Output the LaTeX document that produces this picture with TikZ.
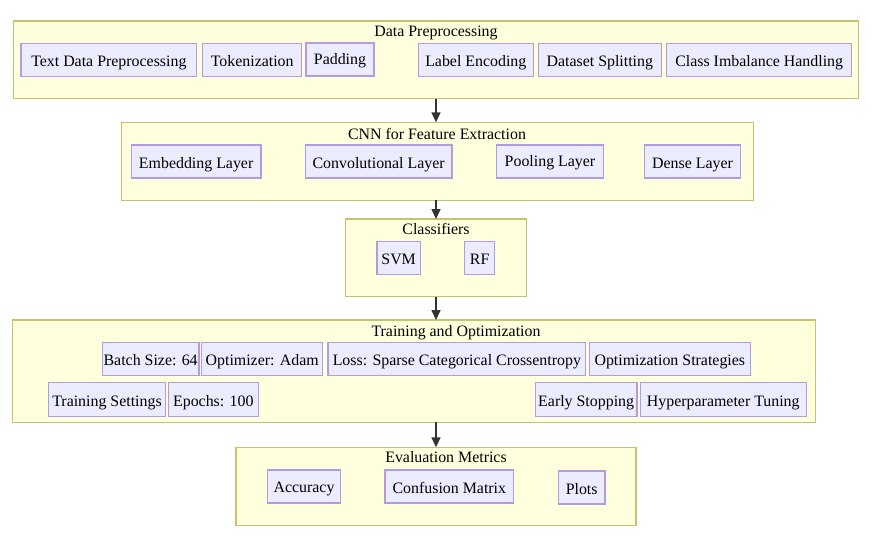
\documentclass[tikz,border=0pt]{standalone}
\usepackage{fontspec}
\setmainfont{Liberation Serif}
\usetikzlibrary{arrows.meta}
\definecolor{clfill}{HTML}{FFFFDE}
\definecolor{cldraw}{HTML}{C3C370}
\definecolor{bxfill}{HTML}{ECECFF}
\definecolor{bxdraw}{HTML}{B39AE5}
\definecolor{arr}{HTML}{333333}
\tikzset{
  cluster/.style={draw=cldraw, fill=clfill, line width=1.4pt, inner sep=0pt, outer sep=0pt},
  box/.style={draw=bxdraw, fill=bxfill, line width=1.4pt, inner sep=0pt, outer sep=0pt, minimum height=33pt, text height=17pt, text depth=3pt, font=\fontsize{15.9}{18}\selectfont},
  raised/.style={text height=14pt, text depth=3pt},
  ctitle/.style={inner sep=0pt, anchor=base, font=\fontsize{15.9}{18}\selectfont},
  flow/.style={draw=arr, line width=1.6pt, -{Triangle[length=10pt, width=9pt]}}
}
\begin{document}
\begin{tikzpicture}[x=1pt, y=-1pt]
\useasboundingbox (0,0) rectangle (872,542);
% clusters
\node[cluster, minimum width=845pt, minimum height=77.7pt] (dp) at (435.8,59.85) {};
\node[cluster, minimum width=631.6pt, minimum height=78pt] (cnn) at (437.5,161.3) {};
\node[cluster, minimum width=180.6pt, minimum height=77.7pt] (cls) at (436,257.85) {};
\node[cluster, minimum width=803.4pt, minimum height=102.3pt] (tr) at (414,371.15) {};
\node[cluster, minimum width=400pt, minimum height=78pt] (ev) at (436,486.3) {};
% titles
\node[ctitle] (tdp0) at (436,36.7) {Data Preprocessing};
\node[ctitle] (tcnn) at (437,139) {CNN for Feature Extraction};
\node[ctitle] (tcls) at (436,234.7) {Classifiers};
\node[ctitle] (ttr) at (456,336.5) {Training and Optimization};
\node[ctitle] (tev) at (446,462.7) {Evaluation Metrics};
% data preprocessing
\node[box, minimum width=175.7pt] (tdp) at (108.85,59.8) {Text Data Preprocessing};
\node[box, minimum width=99pt] (tok) at (252.2,59.8) {Tokenization};
\node[box, raised, minimum width=68pt] (pad) at (340,59.3) {Padding};
\node[box, minimum width=115pt] (lab) at (475.8,59.8) {Label Encoding};
\node[box, minimum width=123pt] (dss) at (599.8,59.8) {Dataset Splitting};
\node[box, minimum width=185pt] (cih) at (759.2,59.8) {Class Imbalance Handling};
% CNN
\node[box, minimum width=129.7pt] (emb) at (196.15,161.35) {Embedding Layer};
\node[box, minimum width=146.7pt] (conv) at (378.65,161.35) {Convolutional Layer};
\node[box, raised, minimum width=107.4pt] (pool) at (550,161.35) {Pooling Layer};
\node[box, minimum width=96.4pt] (dense) at (692.5,161.35) {Dense Layer};
% classifiers
\node[box, minimum width=43.3pt] (svm) at (398.65,257.8) {SVM};
\node[box, minimum width=30pt] (rf) at (479.7,257.8) {RF};
% training
\node[box, minimum width=96.7pt] (bs) at (150.65,358.8) {Batch Size: 64};
\node[box, minimum width=121pt] (opt) at (262.2,358.8) {Optimizer: Adam};
\node[box, minimum width=257.7pt] (loss) at (456.85,358.8) {Loss: Sparse Categorical Crossentropy};
\node[box, minimum width=161pt] (ostr) at (669.8,358.8) {Optimization Strategies};
\node[box, minimum width=116.6pt, minimum height=33.6pt] (tset) at (107,399.5) {Training Settings};
\node[box, minimum width=90pt, minimum height=33.6pt] (ep) at (213.3,399.5) {Epochs: 100};
\node[box, minimum width=101.7pt, minimum height=33.6pt] (es) at (586.15,399.5) {Early Stopping};
\node[box, minimum width=166pt, minimum height=33.6pt] (hp) at (723.3,399.5) {Hyperparameter Tuning};
% evaluation
\node[box, raised, minimum width=73.4pt] (acc) at (304,486.5) {Accuracy};
\node[box, minimum width=128.7pt] (conf) at (449.35,486.5) {Confusion Matrix};
\node[box, minimum width=46.7pt] (plots) at (581.65,487.5) {Plots};
% flow arrows
\draw[flow] (dp.south -| 436,0) -- (cnn.north -| 436,0);
\draw[flow] (cnn.south -| 436,0) -- (cls.north -| 436,0);
\draw[flow] (cls.south -| 436,0) -- (tr.north -| 436,0);
\draw[flow] (tr.south -| 436,0) -- (ev.north -| 436,0);
\end{tikzpicture}
\end{document}
